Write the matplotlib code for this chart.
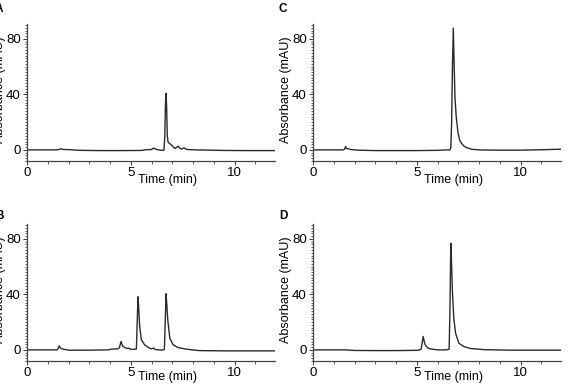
import matplotlib
matplotlib.use('Agg')
import matplotlib.pyplot as plt
from matplotlib.ticker import MultipleLocator

plt.rcParams['font.family'] = ['Liberation Sans', 'DejaVu Sans']

# panel A
time_a = [0, 1.4, 1.55, 1.63, 1.75, 2.0, 2.5, 3.5, 4.5, 5.5, 5.8, 5.88, 5.95, 6.0, 6.09, 6.2, 6.4,
          6.6, 6.64, 6.67, 6.70, 6.73, 6.76, 6.80, 6.88, 6.96, 7.05, 7.14, 7.22, 7.28, 7.36, 7.45,
          7.52, 7.58, 7.66, 7.8, 8.2, 9.5, 10.5, 11.95]
abs_a = [0, 0, 0.3, 0.8, 0.3, 0.2, -0.3, -0.5, -0.5, -0.4, 0.2, 0.3, 0.1, 0.3, 1.3, 0.5, -0.2,
         -0.3, 10, 32, 40.8, 30, 10, 5.5, 4.5, 3.5, 2.0, 1.0, 2.0, 2.6, 1.3, 0.5,
         1.2, 1.4, 0.5, 0.2, 0, -0.4, -0.5, -0.5]

# panel B
time_b = [0, 1.45, 1.5, 1.55, 1.62, 1.75, 2.0, 3.0, 3.9, 4.1, 4.35, 4.45, 4.53, 4.6, 4.7, 4.82,
          4.89, 4.96, 5.1, 5.27, 5.31, 5.35, 5.39, 5.43, 5.51, 5.67, 5.91, 6.0, 6.09, 6.18, 6.35,
          6.55, 6.62, 6.66, 6.70, 6.74, 6.78, 6.88, 7.04, 7.28, 7.68, 8.3, 9.5, 11.95]
abs_b = [0, 0, 1.0, 2.9, 1.2, 0.5, -0.2, -0.2, 0, 0.6, 0.7, 1.5, 6.1, 3.0, 1.8, 1.0,
         1.3, 0.6, 0.4, 0.6, 20, 38.3, 28, 17, 7.3, 3.6, 1.2, 0.8, 1.3, 0.3, 0,
         -0.1, 0.5, 20, 40.5, 32, 22, 8.5, 3.6, 1.7, 0.5, -0.5, -0.7, -0.7]

# panel C
time_c = [0, 1.45, 1.52, 1.57, 1.62, 1.7, 1.85, 2.2, 3, 4, 5, 6, 6.5,
          6.6, 6.64, 6.68, 6.72, 6.76, 6.80, 6.84, 6.90, 6.99, 7.07, 7.15, 7.27, 7.39, 7.63,
          8.0, 9, 10, 11, 11.95]
abs_c = [0, 0, 0.5, 2.4, 1.0, 0.8, 0.2, -0.2, -0.5, -0.5, -0.5, -0.3, 0,
         0, 1.5, 20, 60, 87.7, 62, 38, 24, 12, 7, 4.8, 2.8, 1.7, 0.5,
         0, -0.2, -0.2, 0.1, 0.5]

# panel D
time_d = [0, 1.6, 2.0, 3.0, 4.0, 5.0, 5.15, 5.21, 5.26, 5.31, 5.36, 5.41, 5.54, 5.75, 6.0,
          6.4, 6.56, 6.60, 6.64, 6.68, 6.72, 6.79, 6.87, 7.03, 7.27, 7.59, 8.23, 9.5, 11.95]
abs_d = [0, 0, -0.4, -0.5, -0.5, -0.3, 0, 0.5, 5, 9.7, 6, 3.6, 1.2, 0.5, 0,
         0, 0.5, 30, 76.9, 60, 41, 22, 12, 4.8, 2.4, 1.0, 0.2, -0.2, -0.2]

# letter, data, axes origin (px), xlabel offset, letter y (px)
panels = [
    ('A', time_a, abs_a, [27, 24], -0.095, 9),
    ('C', time_c, abs_c, [313, 24], -0.095, 9),
    ('B', time_b, abs_b, [27, 224], -0.07, 216),
    ('D', time_d, abs_d, [313, 224], -0.07, 216),
]

W, H = 568, 384
fig = plt.figure(figsize=(W / 100, H / 100), dpi=100)

for letter, t, v, (px, py), xl_y, ly in panels:
    ax = fig.add_axes([px / W, 1 - (py + 137) / H, 248 / W, 137 / H])
    ax.plot(t, v, color='#2b2b2b', linewidth=1.0)
    ax.set_xlim(0, 11.95)
    ax.set_ylim(-8, 90.7)
    for s in ['top', 'right']:
        ax.spines[s].set_visible(False)
    for s in ['left', 'bottom']:
        ax.spines[s].set_color('#444444')
        ax.spines[s].set_linewidth(0.9)
    ax.set_xticks([0, 5, 10])
    ax.set_yticks([0, 40, 80])
    ax.xaxis.set_minor_locator(MultipleLocator(1))
    ax.yaxis.set_minor_locator(MultipleLocator(2))
    ax.tick_params(which='major', direction='out', length=3, width=0.8, color='#444444',
                   labelsize=9.5, pad=1.5)
    ax.tick_params(which='minor', direction='out', length=1.8, width=0.6, color='#444444')
    ax.set_xlabel('Time (min)', fontsize=9)
    ax.set_ylabel('Absorbance (mAU)', fontsize=9)
    ax.xaxis.set_label_coords(0.565, xl_y)
    ax.yaxis.set_label_coords(-0.085, 0.52)
    lx = -1 if px < 100 else 283
    fig.text(lx / W, 1 - ly / H, letter, fontsize=8.5, fontweight='bold',
             ha='center', va='center')

fig.savefig('out.png', dpi=100)
